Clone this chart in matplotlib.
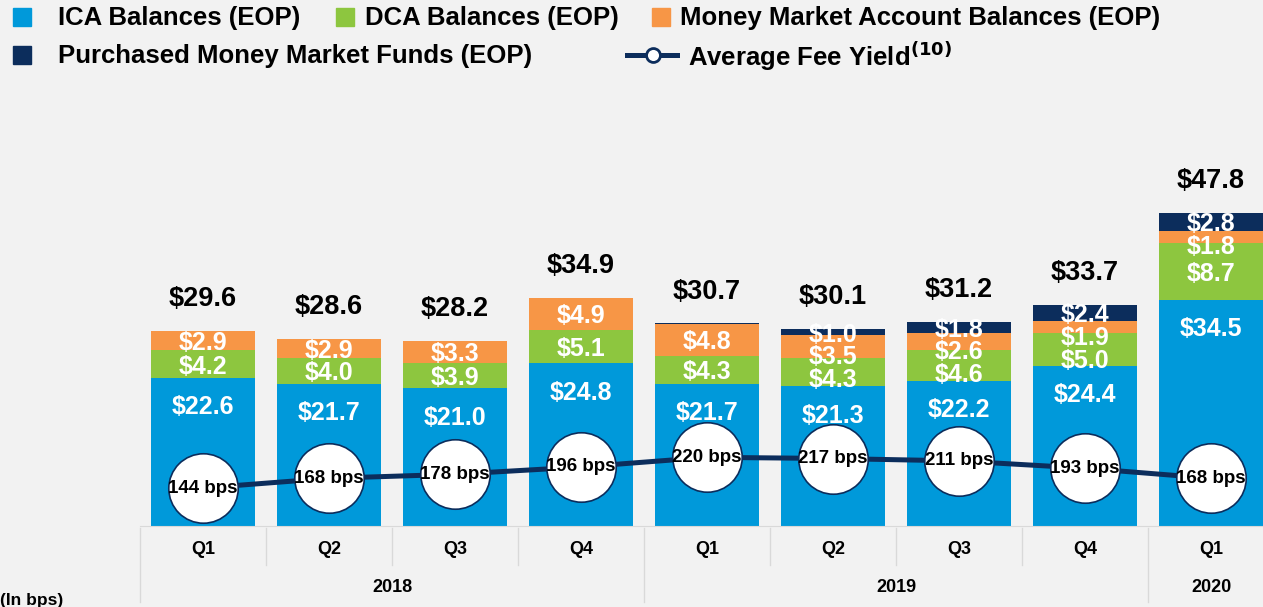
import numpy as np
import matplotlib.pyplot as plt
from matplotlib.patches import Rectangle
from matplotlib.lines import Line2D
import matplotlib.transforms as mtransforms

plt.rcParams['font.family'] = ['Liberation Sans', 'DejaVu Sans']
plt.rcParams['font.weight'] = 'bold'

quarters = ['Q1', 'Q2', 'Q3', 'Q4', 'Q1', 'Q2', 'Q3', 'Q4', 'Q1']
years = ['2018', '2019', '2020']
year_centers = [1.5, 5.5, 8.0]

ica = [22.6, 21.7, 21.0, 24.8, 21.7, 21.3, 22.2, 24.4, 34.5]
dca = [4.2, 4.0, 3.9, 5.1, 4.3, 4.3, 4.6, 5.0, 8.7]
mma = [2.9, 2.9, 3.3, 4.9, 4.8, 3.5, 2.6, 1.9, 1.8]
pmmf = [0.0, 0.0, 0.0, 0.0, 0.1, 1.0, 1.8, 2.4, 2.8]
pmmf_labels = ['', '', '', '', '', '$1.0', '$1.8', '$2.4', '$2.8']
totals = ['$29.6', '$28.6', '$28.2', '$34.9', '$30.7', '$30.1', '$31.2', '$33.7', '$47.8']
fee_yield = [144, 168, 178, 196, 220, 217, 211, 193, 168]

c_ica = '#0099da'
c_dca = '#8dc63f'
c_mma = '#f79646'
c_pmmf = '#0c2d5c'
bg = '#f2f2f2'

W, H = 1263, 607
fig = plt.figure(figsize=(W / 100, H / 100), dpi=100, facecolor=bg)
ax = fig.add_axes([140 / W, 81 / H, 1 - 140 / W, 426 / H])
ax.set_facecolor(bg)

x = np.arange(len(quarters))
bw = 0.83
b1 = np.array(ica)
b2 = b1 + np.array(dca)
b3 = b2 + np.array(mma)
b4 = b3 + np.array(pmmf)

ax.bar(x, ica, bw, color=c_ica)
ax.bar(x, dca, bw, bottom=b1, color=c_dca)
ax.bar(x, mma, bw, bottom=b2, color=c_mma)
ax.bar(x, pmmf, bw, bottom=b3, color=c_pmmf)

ax.set_xlim(-0.5, -0.5 + 1123 / 126)
ax.set_ylim(0, 65)
ax.set_xticks([])
ax.set_yticks([])
for s in ['top', 'right', 'left']:
    ax.spines[s].set_visible(False)
ax.spines['bottom'].set_color('#d9d9d9')

lab = dict(color='white', fontsize=18, fontweight='bold', ha='center', va='center')
# pixels per data unit, used to keep stacked labels from piling up
ppu = 426 / 65
top = ax.get_ylim()[1]
for i in range(len(x)):
    ax.annotate('$%.1f' % ica[i], (x[i], b1[i]), xytext=(0, -21), textcoords='offset points', **lab)
    # top to bottom: purchased, mma, dca
    segs = []
    if pmmf_labels[i]:
        segs.append((pmmf_labels[i], b3[i] + pmmf[i] / 2))
    segs.append(('$%.1f' % mma[i], b2[i] + mma[i] / 2))
    segs.append(('$%.1f' % dca[i], b1[i] + dca[i] / 2))
    prev = None
    for txt, yc in segs:
        drop = 2.5  # px below centre
        if prev is not None:
            drop = max(drop, prev + 22.5 - (top - yc) * ppu)
        ax.annotate(txt, (x[i], yc), xytext=(0, -drop * 0.72), textcoords='offset points', **lab)
        prev = (top - yc) * ppu + drop
    ax.annotate(totals[i], (x[i], b4[i]), xytext=(0, 23), textcoords='offset points',
                color='black', fontsize=19.5, fontweight='bold', ha='center', va='center')

ax2 = ax.twinx()
ax2.set_ylim(50, 1104)
ax2.set_yticks([])
for s in ax2.spines.values():
    s.set_visible(False)
ax2.plot(x, fee_yield, color=c_pmmf, lw=3.6, marker='o', ms=50, mfc='white',
         mec=c_pmmf, mew=1.2, zorder=3)
for i in range(len(x)):
    ax2.text(x[i], fee_yield[i], '%d bps' % fee_yield[i], fontsize=13.5, fontweight='bold',
             ha='center', va='center', zorder=4)

# category table under the bars
tr = mtransforms.blended_transform_factory(ax.transData, ax.transAxes)
for k in range(len(quarters) + 1):
    xx = -0.5 + k
    y_end = -0.178 if k in (0, 4, 8) else -0.0915
    ax.plot([xx, xx], [-0.005, y_end], color='#d9d9d9', lw=1, transform=tr, clip_on=False)
for i, q in enumerate(quarters):
    ax.text(x[i], -0.054, q, transform=tr, ha='center', va='center', fontsize=13, fontweight='bold')
for yc, yr in zip(year_centers, years):
    ax.text(yc, -0.1455, yr, transform=tr, ha='center', va='center', fontsize=13, fontweight='bold')

fig.text(0, 1 - 600 / H, '(In bps)', ha='left', va='center', fontsize=12.5, fontweight='bold')

# legend
def sq(cx, cy, color):
    fig.patches.append(Rectangle(((cx - 9) / W, 1 - (cy + 9) / H), 18 / W, 18 / H,
                                 transform=fig.transFigure, color=color))

def lt(px, py, s):
    fig.text(px / W, 1 - py / H, s, ha='left', va='center', fontsize=18.5, fontweight='bold')

sq(22, 17, c_ica)
lt(58, 18, 'ICA Balances (EOP)')
sq(345, 17, c_dca)
lt(365, 18, 'DCA Balances (EOP)')
sq(661, 17, c_mma)
lt(680, 18, 'Money Market Account Balances (EOP)')
sq(22, 55, c_pmmf)
lt(58, 56, 'Purchased Money Market Funds (EOP)')
fig.lines.append(Line2D([627 / W, 677 / W], [1 - 55 / H, 1 - 55 / H], transform=fig.transFigure,
                        color=c_pmmf, lw=3.6))
fig.lines.append(Line2D([653 / W], [1 - 55 / H], transform=fig.transFigure, marker='o', ms=10,
                        mfc='white', mec=c_pmmf, mew=2))
lt(688, 56, r'Average Fee Yield$^{\mathbf{(10)}}$')

fig.savefig('out.png', dpi=100, facecolor=bg)
